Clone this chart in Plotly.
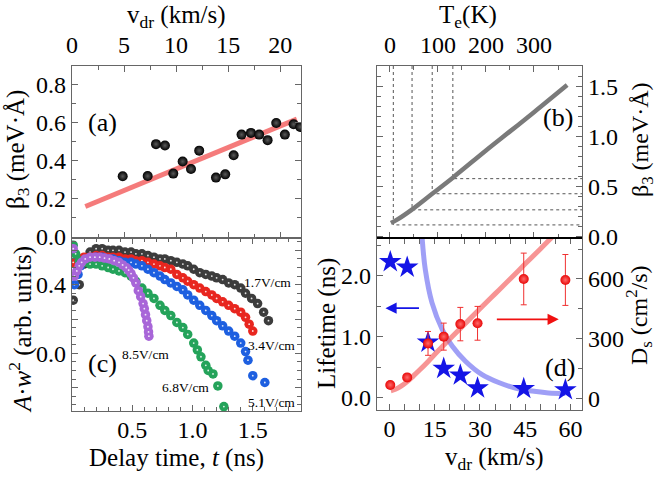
import plotly.graph_objects as go

W, H = 656, 477
def px(x): return x / W
def py(y): return 1 - y / H

FONT = "Liberation Serif, Times New Roman, DejaVu Serif, serif"

# ---------------- data ----------------
# (a) beta3 vs drift velocity
a_vdr = [4.87, 7.27, 8.07, 8.93, 9.73, 10.63, 11.43, 12.22, 13.83, 14.72, 15.53,
         16.29, 17.19, 17.98, 18.79, 19.62, 20.45, 21.29, 21.92]
a_beta = [0.318, 0.319, 0.486, 0.479, 0.332, 0.395, 0.356, 0.452, 0.311, 0.328, 0.428,
          0.536, 0.545, 0.536, 0.507, 0.597, 0.536, 0.590, 0.576]
a_fit_v = [1.28, 21.6]
a_fit_beta = [0.160, 0.617]

# (b) beta3 vs electron temperature
b_Te = [2, 14, 45, 88, 131, 200, 250, 300, 369]
b_beta = [0.14, 0.17, 0.27, 0.43, 0.59, 0.86, 1.05, 1.24, 1.51]
b_mark_Te = [7, 46, 88, 131]
b_mark_beta = [0.12, 0.27, 0.43, 0.58]

# (c) A*w^2 vs delay time
c_labels = ["1.7V/cm", "3.4V/cm", "5.1V/cm", "6.8V/cm", "8.5V/cm"]
c_t_17 = [0.01, 0.06, 0.10, 0.15, 0.20, 0.25, 0.30, 0.34, 0.39, 0.44, 0.49, 0.53, 0.58, 0.63,
          0.68, 0.73, 0.77, 0.82, 0.87, 0.92, 0.96, 1.01, 1.06, 1.11, 1.16, 1.20, 1.25, 1.30,
          1.35, 1.40, 1.44, 1.49, 1.54, 1.59, 1.63]
c_v_17 = [0.31, 0.40, 0.52, 0.59, 0.61, 0.61, 0.60, 0.60, 0.60, 0.59, 0.59, 0.58, 0.58, 0.57,
          0.56, 0.55, 0.55, 0.54, 0.53, 0.52, 0.51, 0.49, 0.47, 0.46, 0.45, 0.44, 0.43, 0.41,
          0.40, 0.38, 0.35, 0.32, 0.29, 0.24, 0.19]
c_t_34 = [0.01, 0.06, 0.10, 0.15, 0.20, 0.25, 0.30, 0.34, 0.39, 0.44, 0.49, 0.53, 0.58, 0.63,
          0.68, 0.73, 0.77, 0.82, 0.87, 0.92, 0.96, 1.01, 1.06, 1.11, 1.16, 1.20, 1.25, 1.30,
          1.35, 1.40, 1.44, 1.47, 1.50]
c_v_34 = [0.53, 0.55, 0.56, 0.56, 0.57, 0.57, 0.56, 0.56, 0.56, 0.55, 0.55, 0.54, 0.54, 0.53,
          0.52, 0.51, 0.50, 0.49, 0.46, 0.44, 0.42, 0.40, 0.38, 0.36, 0.34, 0.32, 0.30, 0.28,
          0.26, 0.24, 0.21, 0.17, 0.13]
c_t_51 = [0.02, 0.05, 0.07, 0.10, 0.15, 0.20, 0.25, 0.30, 0.34, 0.39, 0.44, 0.49, 0.53, 0.58,
          0.63, 0.68, 0.73, 0.77, 0.82, 0.87, 0.92, 0.96, 1.01, 1.06, 1.11, 1.16, 1.20, 1.25,
          1.30, 1.35, 1.40, 1.44, 1.46, 1.50, 1.60]
c_v_51 = [0.40, 0.46, 0.51, 0.54, 0.55, 0.56, 0.56, 0.55, 0.55, 0.54, 0.53, 0.53, 0.52, 0.51,
          0.49, 0.47, 0.45, 0.43, 0.41, 0.39, 0.37, 0.34, 0.31, 0.28, 0.25, 0.22, 0.19, 0.16,
          0.13, 0.10, 0.06, 0.01, -0.04, -0.13, -0.17]
c_t_68 = [0.01, 0.03, 0.06, 0.10, 0.15, 0.20, 0.25, 0.30, 0.34, 0.39, 0.44, 0.49, 0.53, 0.58,
          0.63, 0.68, 0.73, 0.77, 0.82, 0.87, 0.92, 0.96, 1.01, 1.04, 1.07, 1.11, 1.13, 1.17,
          1.21, 1.26]
c_v_68 = [0.63, 0.58, 0.54, 0.53, 0.52, 0.52, 0.51, 0.50, 0.49, 0.48, 0.47, 0.45, 0.42, 0.38,
          0.35, 0.32, 0.28, 0.25, 0.22, 0.18, 0.15, 0.11, 0.06, 0.02, -0.02, -0.07, -0.10, -0.12,
          -0.19, -0.31]
c_t_85 = [0.01, 0.02, 0.04, 0.06, 0.08, 0.11, 0.15, 0.19, 0.23, 0.27, 0.31, 0.35, 0.39, 0.42,
          0.45, 0.47, 0.49, 0.51, 0.53, 0.55, 0.57, 0.59, 0.60, 0.61, 0.62, 0.63, 0.635, 0.638]
c_v_85 = [0.61, 0.45, 0.48, 0.51, 0.53, 0.55, 0.56, 0.56, 0.56, 0.555, 0.55, 0.54, 0.53, 0.515,
          0.50, 0.485, 0.465, 0.44, 0.41, 0.365, 0.33, 0.29, 0.26, 0.225, 0.19, 0.155, 0.125, 0.10]

# (d) lifetime and diffusion vs drift velocity
d_v = [0.3, 5.9, 12.8, 18.0, 23.5, 29.2, 44.5, 58.3]
d_life = [2.23, 2.14, 0.91, 0.48, 0.37, 0.16, 0.15, 0.13]
d_Ds = [67, 105, 276, 310, 373, 377, 600, 595]
d_Ds_err = [10, 12, 60, 68, 84, 85, 130, 128]
d_life_fit_v = [10.8, 11.9, 14.1, 17.5, 20.8, 25.2, 30.7, 36.2, 41.7, 47.3, 52.7, 58.3]
d_life_fit = [2.65, 2.10, 1.56, 1.12, 0.85, 0.60, 0.38, 0.25, 0.16, 0.11, 0.08, 0.07]
d_Ds_fit_v = [0.5, 2, 4, 6, 8, 10, 13, 16, 20, 25, 30, 35, 40, 45, 50, 54]
d_Ds_fit = [38, 45, 62, 85, 113, 142, 188, 236, 298, 374, 450, 525, 600, 676, 751, 812]

# ---------------- figure ----------------
fig = go.Figure()

# (a)
fig.add_trace(go.Scatter(x=a_fit_v, y=a_fit_beta, mode="lines", xaxis="x", yaxis="y",
                         line=dict(color="rgba(242,90,90,0.8)", width=5)))
fig.add_trace(go.Scatter(x=a_vdr, y=a_beta, mode="markers", xaxis="x", yaxis="y",
                         marker=dict(size=10, color="#000000",
                                     gradient=dict(type="radial", color="#5a5a5a"))))

# (b)
for T, b in zip(b_mark_Te, b_mark_beta):
    fig.add_trace(go.Scatter(x=[T, T, 400], y=[1.70, b, b], mode="lines", xaxis="x3", yaxis="y3",
                             line=dict(color="#555", width=1, dash="dot")))
fig.add_trace(go.Scatter(x=b_Te, y=b_beta, mode="lines", xaxis="x3", yaxis="y3",
                         line=dict(color="#7a7a7a", width=4.5, shape="spline")))

# (c)
c_series = [(c_t_17, c_v_17, "#3c3c3c"), (c_t_34, c_v_34, "#e8261f"),
            (c_t_51, c_v_51, "#1d5fe0"), (c_t_68, c_v_68, "#24a35a"),
            (c_t_85, c_v_85, "#a866d8")]
for t, v, col in c_series:
    fig.add_trace(go.Scatter(x=t, y=v, mode="markers", xaxis="x2", yaxis="y2",
                             marker=dict(size=9.5, color=col, line=dict(width=0))))
    fig.add_trace(go.Scatter(x=t, y=v, mode="markers", xaxis="x2", yaxis="y2",
                             marker=dict(size=1.8, color="rgba(255,255,255,0.85)",
                                         line=dict(width=0))))

# (d)
fig.add_trace(go.Scatter(x=d_life_fit_v, y=d_life_fit, mode="lines", xaxis="x4", yaxis="y4",
                         line=dict(color="rgba(95,95,240,0.6)", width=5, shape="spline")))
fig.add_trace(go.Scatter(x=d_Ds_fit_v, y=d_Ds_fit, mode="lines", xaxis="x4", yaxis="y5",
                         line=dict(color="rgba(242,90,90,0.65)", width=5, shape="spline")))
fig.add_trace(go.Scatter(x=d_v, y=d_Ds, mode="markers", xaxis="x4", yaxis="y5",
                         error_y=dict(type="data", array=d_Ds_err, color="#f03030",
                                      thickness=1, width=3),
                         marker=dict(size=10, color="#e80808",
                                     gradient=dict(type="radial", color="#ff6a6a"))))
fig.add_trace(go.Scatter(x=d_v, y=d_life, mode="markers", xaxis="x4", yaxis="y4",
                         marker=dict(symbol="star", size=17, color="#1414e6")))

# ---------------- axes ----------------
TICKFONT = dict(family=FONT, size=24, color="black")

def axis(**kw):
    base = dict(showgrid=False, zeroline=False, showline=True, linecolor="#666",
                linewidth=1.2, ticks="inside", tickcolor="#666", ticklen=6, tickwidth=1,
                tickfont=TICKFONT, automargin=False)
    base.update(kw)
    return base

def minor(d, t0=0):
    return dict(ticks="inside", ticklen=3.5, tickcolor="#666", dtick=d, tick0=t0)

dom_left = [px(72), px(301)]
dom_right = [px(377), px(582)]
dom_top = [py(238), py(66)]
dom_bot = [py(411), py(238)]

fig.update_layout(
    width=W, height=H, margin=dict(l=0, r=0, t=0, b=0, autoexpand=False),
    font=dict(family=FONT, size=24, color="black"),
    paper_bgcolor="white", plot_bgcolor="white", showlegend=False,
    xaxis=axis(domain=dom_left, range=[0, 22.0], side="top", anchor="y",
               dtick=5, tick0=0, mirror="allticks", minor=minor(2.5), ticklabelstandoff=2),
    yaxis=axis(domain=dom_top, range=[-0.005, 0.895], anchor="x",
               dtick=0.2, tick0=0, tickformat=".1f", mirror="allticks", minor=minor(0.1)),
    xaxis2=axis(domain=dom_left, range=[0, 1.9], anchor="y2",
                tickvals=[0.5, 1.0, 1.5], ticktext=["0.5", "1.0", "1.5"],
                mirror="allticks", minor=minor(0.1), ticklabelstandoff=-3),
    yaxis2=axis(domain=dom_bot, range=[-0.336, 0.672], anchor="x2",
                tickvals=[-0.2, 0.0, 0.2, 0.4, 0.6], ticktext=["", "0.0", "", "0.4", ""],
                mirror="allticks", minor=minor(0.05)),
    xaxis3=axis(domain=dom_right, range=[-27, 400], side="top", anchor="y3",
                tickvals=[0, 100, 200, 300], ticktext=["0", "100", "200", "300"],
                mirror="allticks", minor=minor(50), ticklabelstandoff=2),
    yaxis3=axis(domain=dom_top, range=[-0.01, 1.70], side="right", anchor="x3",
                dtick=0.5, tick0=0, tickformat=".1f", mirror="allticks", minor=minor(0.1)),
    xaxis4=axis(domain=dom_right, range=[-4.1, 63.8], anchor="y4",
                dtick=15, tick0=0, mirror="allticks", minor=minor(5), ticklabelstandoff=-3),
    yaxis4=axis(domain=[py(410), py(238)], range=[-0.20, 2.62], anchor="x4",
                tickvals=[0.0, 1.0, 2.0], ticktext=["0.0", "1.0", "2.0"], minor=minor(0.5)),
    yaxis5=axis(domain=[py(410), py(238)], range=[-59, 806], anchor="x4", overlaying="y4",
                side="right", dtick=300, tick0=0, minor=minor(150)),
)

# boundary line between (b) and (d)
fig.add_shape(type="line", xref="paper", yref="paper", x0=px(377), x1=px(582),
              y0=py(238), y1=py(238), line=dict(color="black", width=2))

# ---------------- annotations ----------------
def note(text, x, y, size=25, angle=0, **kw):
    fig.add_annotation(text=text, x=px(x), y=py(y), xref="paper", yref="paper",
                       showarrow=False, textangle=angle, xanchor="center", yanchor="middle",
                       font=dict(family=FONT, size=size, color="black"), **kw)

note("v<sub>dr</sub> (km/s)", 176, 16)
note("T<sub>e</sub>(K)", 468, 17)
note("β<sub>3</sub> (meV·Å)", 18, 150, angle=-90)
note("<i>A</i>·<i>w</i><sup>2</sup> (arb. units)", 20, 330, angle=-90)
note("Delay time, <i>t</i> (ns)", 176, 458)
note("v<sub>dr</sub> (km/s)", 495, 458)
note("Lifetime (ns)", 327, 324, angle=-90)
note("β<sub>3</sub> (meV·Å)", 642, 140, size=24, angle=-90)
note("D<sub>s</sub> (cm<sup>2</sup>/s)", 639, 315, size=24, angle=-90)

note("(a)", 102, 123, size=26)
note("(b)", 558, 118, size=26)
note("(c)", 102, 363, size=26)
note("(d)", 560, 367, size=26)

for lab, x, y in zip(c_labels, [267, 271, 271, 186, 145], [282, 345, 402, 387, 354]):
    note(lab, x, y, size=13.5)

# arrows in (d)
fig.add_annotation(x=-1.3, y=1.47, ax=10.3, ay=1.47, xref="x4", yref="y4", axref="x4",
                   ayref="y4", showarrow=True, arrowhead=2, arrowsize=1.4, arrowwidth=1.6,
                   arrowcolor="#1414e6", text="")
fig.add_annotation(x=56.1, y=397, ax=35.1, ay=397, xref="x4", yref="y5", axref="x4",
                   ayref="y5", showarrow=True, arrowhead=2, arrowsize=1.4, arrowwidth=1.6,
                   arrowcolor="#f01010", text="")

fig.write_html("out.html", config={"displayModeBar": False},
               post_script="document.body.style.margin='0px';document.body.style.padding='0px';")
